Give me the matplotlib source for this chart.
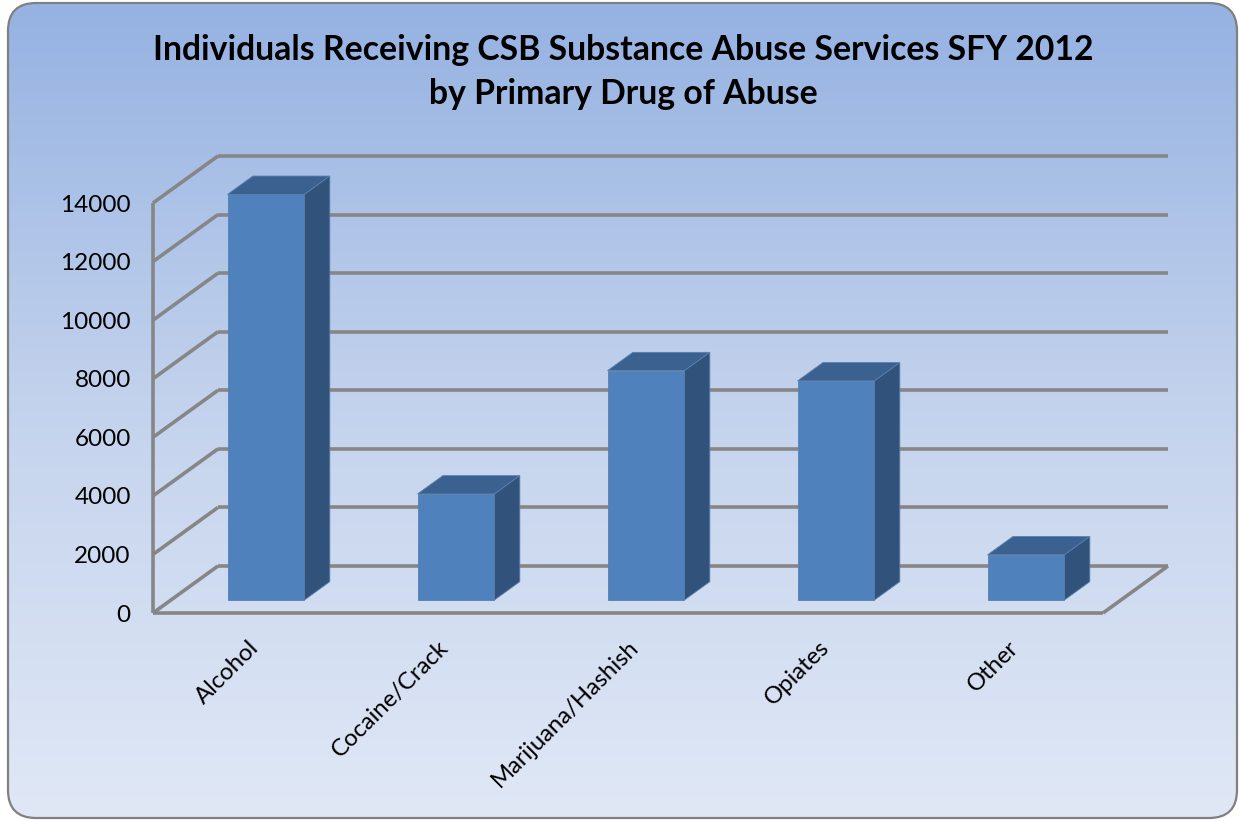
import matplotlib
matplotlib.use("Agg")
import matplotlib.pyplot as plt
import numpy as np
from matplotlib.colors import LinearSegmentedColormap
from matplotlib.patches import FancyBboxPatch, Polygon

plt.rcParams["font.family"] = ["Lato", "DejaVu Sans"]

categories = ["Alcohol", "Cocaine/Crack", "Marijuana/Hashish", "Opiates", "Other"]
clients = [13850, 3620, 7830, 7480, 1540]
yticks = [0, 2000, 4000, 6000, 8000, 10000, 12000, 14000]
title = "Individuals Receiving CSB Substance Abuse Services SFY 2012\nby Primary Drug of Abuse"

W, H = 1241, 821
FRONT, TOP, SIDE = "#4f81bd", "#3b6190", "#31527a"
GRID = "#868686"

# oblique depth offset, in data units (categories, people)
DX, DY = 0.342, 1605
D0, D1 = 0.277, 0.667   # depth range occupied by the bars
BAR_W = 0.405


def proj(x, y, d):
    return (x + d * DX, y + d * DY)


fig = plt.figure(figsize=(W / 100, H / 100), dpi=100)

# background panel with vertical gradient
bg = fig.add_axes([0, 0, 1, 1], zorder=0)
bg.set_xlim(0, W)
bg.set_ylim(H, 0)
bg.axis("off")
panel = FancyBboxPatch((8, 3), 1229, 815, boxstyle="round,pad=0,rounding_size=28",
                       facecolor="none", edgecolor="#808080", linewidth=1.6)
bg.add_patch(panel)
cmap = LinearSegmentedColormap.from_list("bg", ["#95b2e2", "#c4d3ed", "#e0e8f6"])
grad = np.linspace(0, 1, 256).reshape(-1, 1)
im = bg.imshow(grad, cmap=cmap, extent=(8, 1237, 818, 3), aspect="auto", zorder=0)
im.set_clip_path(panel)

fig.text(623 / W, 1 - 72 / H, title, ha="center", va="center", fontsize=24.3,
         fontweight="bold", linespacing=1.45)

ax = fig.add_axes([153 / W, (H - 613) / H, 950 / W, 410 / H], zorder=1)
ax.set_facecolor("none")
for s in ax.spines.values():
    s.set_visible(False)
n = len(categories)
x_lo, x_hi = -0.5, n - 0.5
ax.set_xlim(x_lo, x_hi)
ax.set_ylim(0, max(yticks))

# walls and floor
gkw = dict(color=GRID, linewidth=2.6, solid_capstyle="butt", clip_on=False, zorder=1)
for v in yticks:
    ax.plot(*zip(proj(x_lo, v, 1), proj(x_hi, v, 1)), **gkw)
    ax.plot(*zip(proj(x_lo, v, 0), proj(x_lo, v, 1)), **gkw)
ax.plot([x_lo, x_lo], [0, max(yticks)], **gkw)
ax.plot([x_lo, x_hi], [0, 0], **gkw)
ax.plot(*zip(proj(x_hi, 0, 0), proj(x_hi, 0, 1)), **gkw)

# bars as oblique boxes
for i, v in enumerate(clients):
    x0, x1 = i - BAR_W / 2, i + BAR_W / 2
    faces = [
        ([proj(x0, 0, D0), proj(x1, 0, D0), proj(x1, v, D0), proj(x0, v, D0)], FRONT),
        ([proj(x0, v, D0), proj(x1, v, D0), proj(x1, v, D1), proj(x0, v, D1)], TOP),
        ([proj(x1, 0, D0), proj(x1, 0, D1), proj(x1, v, D1), proj(x1, v, D0)], SIDE),
    ]
    for pts, c in faces:
        ax.add_patch(Polygon(pts, closed=True, facecolor=c, edgecolor="#5a7fae",
                             linewidth=0.6, clip_on=False, zorder=3))

ax.set_yticks(yticks)
ax.set_yticklabels([str(t) for t in yticks], fontsize=17.5)
ax.set_xticks(range(n))
ax.set_xticklabels(categories, fontsize=17.2, rotation=45, ha="right",
                   rotation_mode="anchor")
ax.tick_params(axis="y", length=0, pad=16)
ax.tick_params(axis="x", length=0, pad=17)

fig.savefig("out.png", dpi=100)
